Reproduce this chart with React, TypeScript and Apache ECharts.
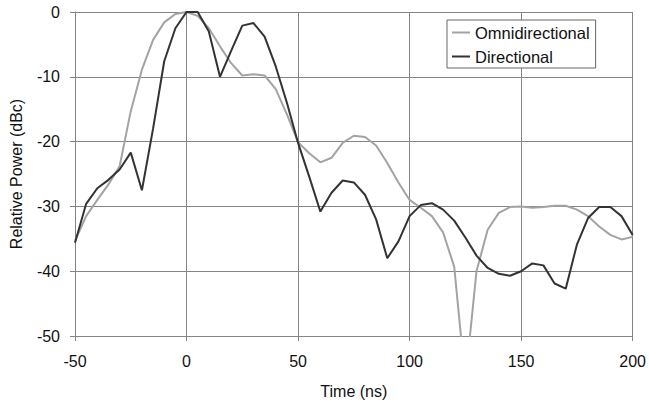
import React, { useEffect, useRef } from "react";
import * as echarts from "echarts";

const times = [
  -50, -45, -40, -35, -30, -25, -20, -15, -10, -5, 0, 5, 10, 15, 20, 25, 30, 35, 40, 45, 50,
  55, 60, 65, 70, 75, 80, 85, 90, 95, 100, 105, 110, 115, 120, 125, 130, 135, 140, 145, 150,
  155, 160, 165, 170, 175, 180, 185, 190, 195, 200,
];

const omnidirectional = [
  -35.3, -31.5, -29, -26.6, -23.8, -15.3, -8.9, -4.3, -1.6, -0.3, 0, -0.6, -2.5, -5.3, -7.9,
  -9.8, -9.6, -9.8, -11.9, -15.8, -20.1, -21.8, -23.2, -22.5, -20.2, -19.1, -19.3, -20.6,
  -23.3, -26.3, -29, -30.2, -31.5, -34, -39.3, -57, -40, -33.6, -31, -30.1, -30, -30.2,
  -30.1, -29.9, -29.9, -30.5, -31.5, -33.1, -34.4, -35.1, -34.7,
];

const directional = [
  -35.6, -29.6, -27.2, -25.9, -24.3, -21.7, -27.5, -18, -7.6, -2.5, 0, 0, -3, -10, -6, -2.1,
  -1.7, -3.8, -8.4, -14, -20.2, -25.4, -30.8, -27.9, -26, -26.3, -28.2, -32, -38, -35.4,
  -31.5, -29.8, -29.5, -30.5, -32.2, -34.8, -37.6, -39.5, -40.4, -40.7, -40, -38.8, -39.1,
  -41.9, -42.7, -35.9, -31.8, -30.1, -30.1, -31.5, -34.4,
];

const seriesNames = ["Omnidirectional", "Directional"];
const xTitle = "Time (ns)";
const yTitle = "Relative Power (dBc)";

const FONT = "'Liberation Sans', Arial, sans-serif";

export default function App() {
  const ref = useRef<HTMLDivElement>(null);
  useEffect(() => {
    if (!ref.current) return;
    const chart = echarts.init(ref.current, undefined, { renderer: "svg" });
    const gridColor = "#848484";
    chart.setOption({
      animation: false,
      backgroundColor: "#ffffff",
      textStyle: { fontFamily: FONT },
      grid: { left: 74, right: 16, top: 12, bottom: 67 },
      legend: {
        orient: "vertical",
        left: 447,
        top: 20,
        backgroundColor: "#ffffff",
        borderColor: "#666666",
        borderWidth: 1,
        padding: [4, 6, 3, 5],
        itemGap: 7,
        itemWidth: 18,
        itemHeight: 2,
        icon: "rect",
        textStyle: { fontFamily: FONT, fontSize: 16.5, color: "#111" },
        data: seriesNames,
      },
      xAxis: {
        type: "value",
        min: -50,
        max: 200,
        interval: 50,
        name: xTitle,
        nameLocation: "middle",
        nameGap: 47,
        nameTextStyle: { fontFamily: FONT, fontSize: 16, color: "#111" },
        axisLine: { show: true, onZero: false, lineStyle: { color: gridColor, width: 1 } },
        axisTick: { show: true, length: 5, lineStyle: { color: gridColor } },
        axisLabel: { fontFamily: FONT, fontSize: 16, color: "#111", margin: 17 },
        splitLine: { show: true, lineStyle: { color: gridColor, width: 1 } },
      },
      yAxis: {
        type: "value",
        min: -50,
        max: 0,
        interval: 10,
        name: yTitle,
        nameLocation: "middle",
        nameGap: 51,
        nameTextStyle: { fontFamily: FONT, fontSize: 16, color: "#111" },
        axisLine: { show: true, onZero: false, lineStyle: { color: gridColor, width: 1 } },
        axisTick: { show: true, length: 5, lineStyle: { color: gridColor } },
        axisLabel: { fontFamily: FONT, fontSize: 16, color: "#111", margin: 15 },
        splitLine: { show: true, lineStyle: { color: gridColor, width: 1 } },
      },
      series: [
        {
          name: seriesNames[0],
          type: "line",
          symbol: "none",
          clip: true,
          lineStyle: { color: "#a3a3a3", width: 2 },
          itemStyle: { color: "#a3a3a3" },
          data: times.map((t, i) => [t, omnidirectional[i]]),
        },
        {
          name: seriesNames[1],
          type: "line",
          symbol: "none",
          clip: true,
          lineStyle: { color: "#333333", width: 2 },
          itemStyle: { color: "#333333" },
          data: times.map((t, i) => [t, directional[i]]),
        },
      ],
    });
    return () => chart.dispose();
  }, []);
  return (
    <div
      ref={ref}
      style={{ position: "fixed", left: 0, top: 0, width: 649, height: 404 }}
    />
  );
}
